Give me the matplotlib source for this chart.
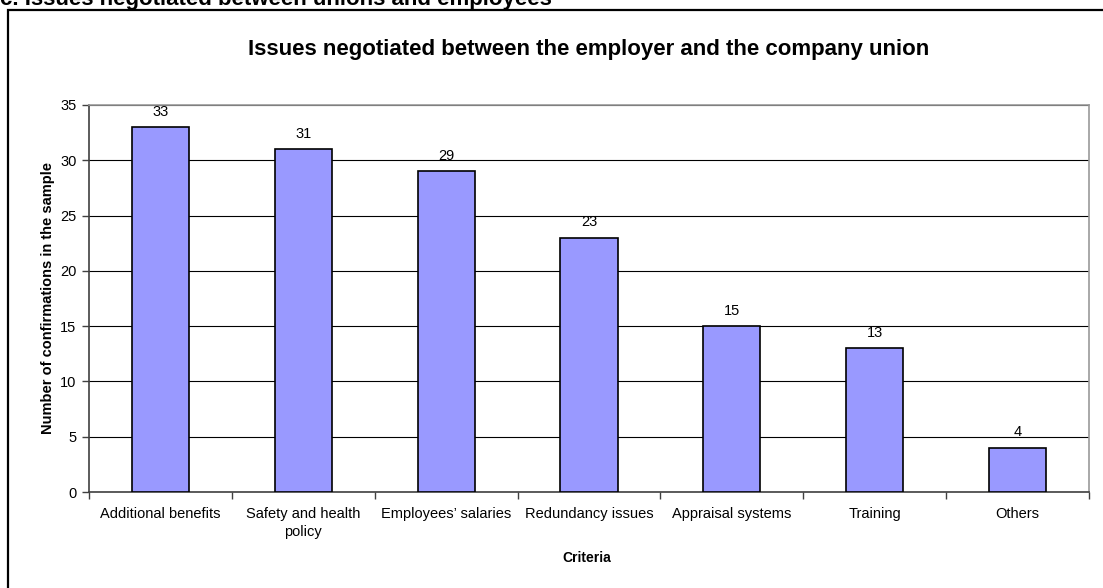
import numpy as np
import matplotlib.pyplot as plt
import matplotlib.patches as mpatches
import matplotlib

matplotlib.rcParams['font.family'] = ['Liberation Sans', 'DejaVu Sans']

categories = ["Additional benefits", "Safety and health\npolicy", "Employees\u2019 salaries",
              "Redundancy issues", "Appraisal systems", "Training", "Others"]
counts = [33, 31, 29, 23, 15, 13, 4]
y_ticks = [0, 5, 10, 15, 20, 25, 30, 35]

W, H = 1103, 588
fig = plt.figure(figsize=(W / 100, H / 100), dpi=100)

# outer frame of the chart object, cut off at right and bottom
fig.patches.append(mpatches.Rectangle((8 / W, -0.1), 1.2, 1 - 10 / H + 0.1,
                                      transform=fig.transFigure, fill=False,
                                      edgecolor='black', linewidth=1.6))
# heading above the chart, cut off at the top as in the source
fig.text(0.0, 1 - 5 / H, "c. Issues negotiated between unions and employees",
         fontsize=16, fontweight='bold', va='baseline', ha='left')

ax = fig.add_axes([89 / W, 1 - 492 / H, (1089 - 89) / W, (492 - 105) / H])
x = np.arange(len(categories))
ax.bar(x, counts, width=0.4, color='#9999FF', edgecolor='black', linewidth=1.2, zorder=3)
for xi, v in zip(x, counts):
    ax.text(xi, v + 0.75, str(v), ha='center', va='bottom', fontsize=10.5)

ax.set_xlim(-0.5, len(categories) - 0.5)
ax.set_ylim(0, 35)
ax.set_yticks(y_ticks)
ax.yaxis.grid(True, color='black', linewidth=0.8, zorder=0)
ax.set_axisbelow(True)

ax.set_xticks(x)
ax.set_xticklabels(categories, fontsize=10.5, linespacing=1.3)
ax.tick_params(axis='x', length=0, pad=11)
ax.set_xticks(np.arange(len(categories) + 1) - 0.5, minor=True)
ax.tick_params(axis='x', which='minor', length=5, direction='out', width=1, color='#404040')
ax.tick_params(axis='y', length=5, direction='out', width=1, labelsize=10.5, color='#404040', pad=4)

for s in ['top', 'right']:
    ax.spines[s].set_color('#999999')
    ax.spines[s].set_linewidth(1.2)
for s in ['left', 'bottom']:
    ax.spines[s].set_color('#404040')
    ax.spines[s].set_linewidth(1.2)

ax.set_ylabel("Number of confirmations in the sample", fontsize=10.5, fontweight='bold', labelpad=4)
fig.text(587 / W, 1 - 558 / H, "Criteria", fontsize=10, fontweight='bold', ha='center', va='center')
fig.text(589 / W, 1 - 50 / H, "Issues negotiated between the employer and the company union",
         fontsize=16, fontweight='bold', ha='center', va='center')

fig.savefig("out.png", dpi=100)
